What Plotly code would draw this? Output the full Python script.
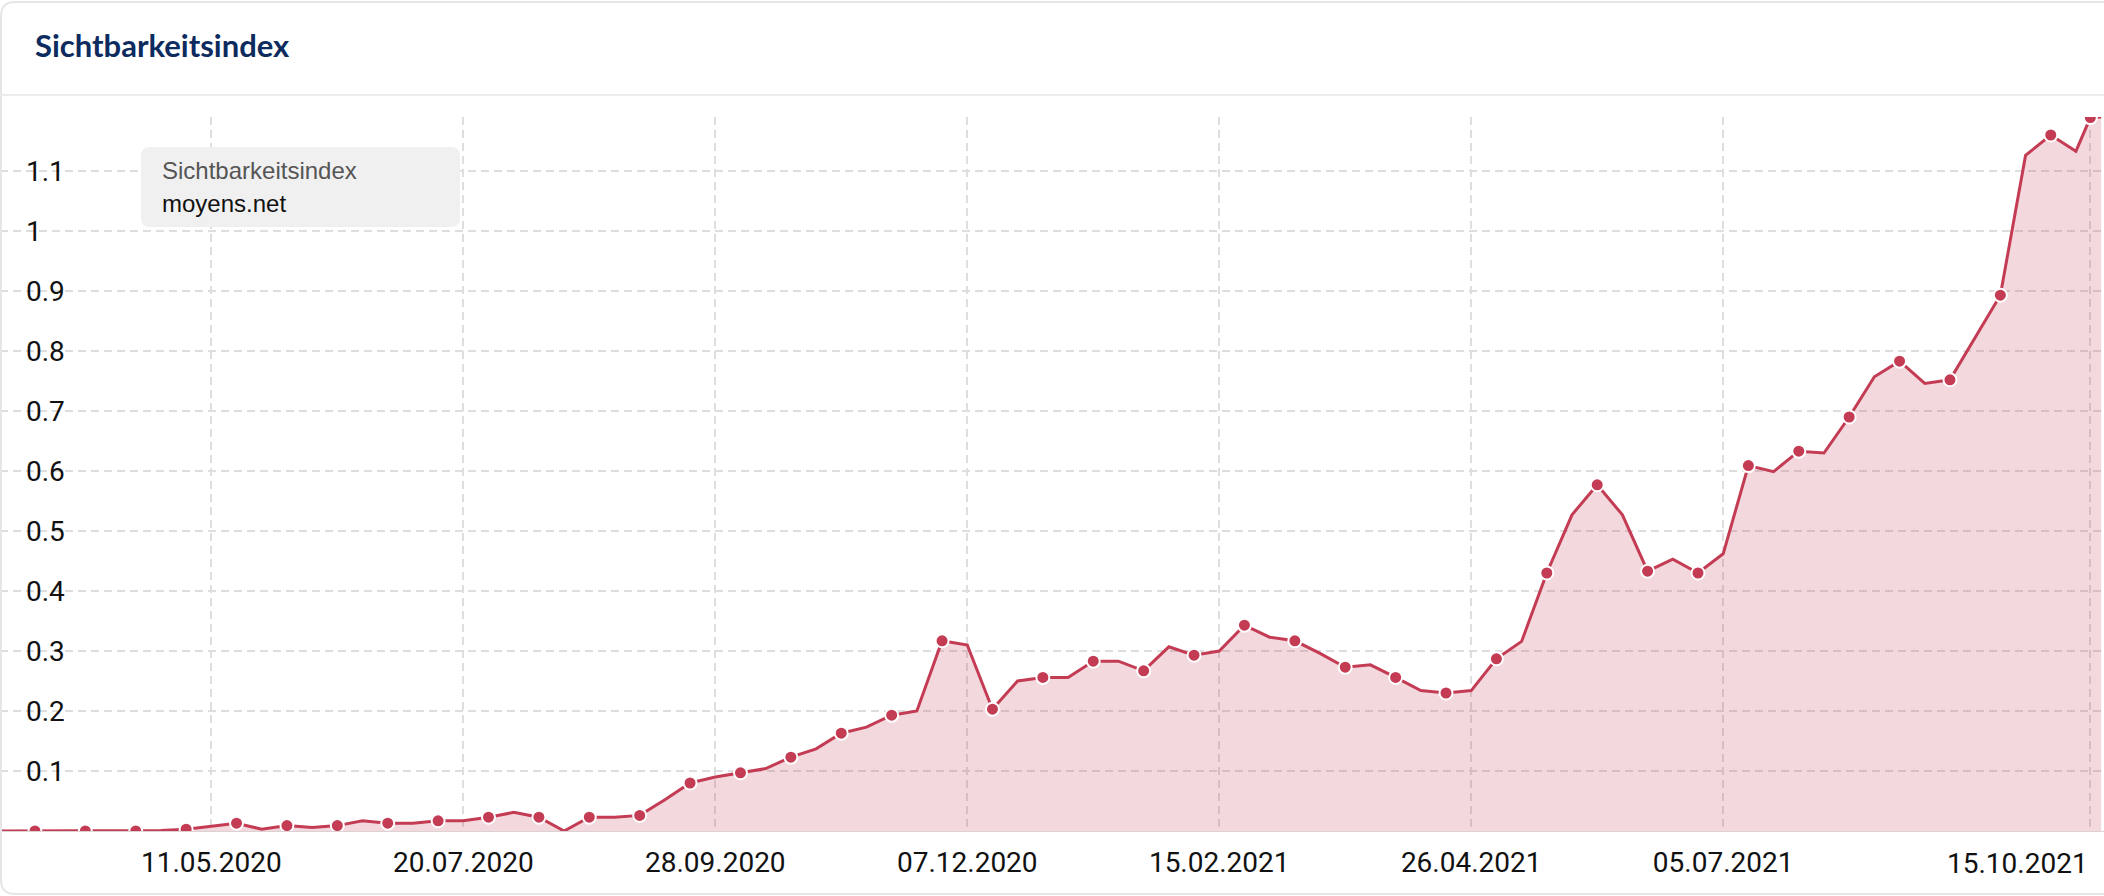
import pandas as pd
import plotly.graph_objects as go

W, H = 2104, 896
M_T, M_B = 117, 65

# weekly visibility index (Mondays) + latest value
weeks = list(pd.date_range("2020-03-09", "2021-10-11", freq="W-MON").strftime("%Y-%m-%d"))
dates = weeks + ["2021-10-15", "2021-10-18"]
values = [
    0.000, 0.000, 0.000, 0.000, 0.000, 0.000, 0.000, 0.001, 0.003, 0.008,
    0.013, 0.003, 0.009, 0.006, 0.009, 0.017, 0.013, 0.013, 0.017, 0.017,
    0.023, 0.031, 0.023, 0.000, 0.023, 0.023, 0.026, 0.052, 0.080, 0.090,
    0.097, 0.104, 0.123, 0.137, 0.163, 0.173, 0.193, 0.200, 0.317, 0.310,
    0.203, 0.250, 0.256, 0.256, 0.283, 0.283, 0.267, 0.307, 0.293, 0.300,
    0.343, 0.323, 0.317, 0.296, 0.273, 0.277, 0.256, 0.234, 0.230, 0.234,
    0.287, 0.316, 0.430, 0.527, 0.577, 0.527, 0.433, 0.453, 0.430, 0.462,
    0.609, 0.599, 0.633, 0.630, 0.690, 0.757, 0.783, 0.746, 0.752, 0.822,
    0.893, 1.126, 1.160, 1.133, 1.189, 1.190,
]

xtick_dates = ["2020-05-11", "2020-07-20", "2020-09-28", "2020-12-07",
               "2021-02-15", "2021-04-26", "2021-07-05", "2021-10-15"]
xtick_labels = ["11.05.2020", "20.07.2020", "28.09.2020", "07.12.2020",
                "15.02.2021", "26.04.2021", "05.07.2021", "15.10.2021"]
ytick_vals = [0.1, 0.2, 0.3, 0.4, 0.5, 0.6, 0.7, 0.8, 0.9, 1.0, 1.1]
ytick_labels = ["0.1", "0.2", "0.3", "0.4", "0.5", "0.6", "0.7", "0.8", "0.9", "1", "1.1"]

RED = "#c43c54"
GRID = "#dedede"


def px(x):
    return x / W


def py(y):
    return (H - M_B - y) / (H - M_T - M_B)


def rounded_rect(x0, y0, x1, y1, r):
    # path in paper coords from pixel box
    pts = [
        f"M {px(x0 + r)},{py(y0)}",
        f"L {px(x1 - r)},{py(y0)}",
        f"Q {px(x1)},{py(y0)} {px(x1)},{py(y0 + r)}",
        f"L {px(x1)},{py(y1 - r)}",
        f"Q {px(x1)},{py(y1)} {px(x1 - r)},{py(y1)}",
        f"L {px(x0 + r)},{py(y1)}",
        f"Q {px(x0)},{py(y1)} {px(x0)},{py(y1 - r)}",
        f"L {px(x0)},{py(y0 + r)}",
        f"Q {px(x0)},{py(y0)} {px(x0 + r)},{py(y0)}",
        "Z",
    ]
    return " ".join(pts)


def card_outline(x0, y0, x1, y1, r):
    # left part of the card frame, right edge runs off the page
    pts = [
        f"M {px(x1)},{py(y0)}",
        f"L {px(x0 + r)},{py(y0)}",
        f"Q {px(x0)},{py(y0)} {px(x0)},{py(y0 + r)}",
        f"L {px(x0)},{py(y1 - r)}",
        f"Q {px(x0)},{py(y1)} {px(x0 + r)},{py(y1)}",
        f"L {px(x1)},{py(y1)}",
    ]
    return " ".join(pts)


fig = go.Figure()

fig.add_trace(go.Scatter(
    x=dates, y=values,
    mode="lines",
    line=dict(color=RED, width=3),
    fill="tozeroy",
    fillcolor="rgba(196, 60, 84, 0.2)",
    hoverinfo="skip",
    showlegend=False,
))

# markers on every second point
fig.add_trace(go.Scatter(
    x=dates[::2], y=values[::2],
    mode="markers",
    marker=dict(color=RED, size=13, line=dict(color="white", width=2)),
    showlegend=False,
))

fig.update_layout(
    width=W, height=H,
    margin=dict(l=0, r=0, t=M_T, b=M_B),
    paper_bgcolor="white",
    plot_bgcolor="white",
    showlegend=False,
    xaxis=dict(
        type="date",
        range=["2020-03-13 07:00", "2021-10-18 19:00"],
        tickvals=xtick_dates,
        ticktext=xtick_labels[:-1] + [""],
        showgrid=True,
        gridcolor=GRID,
        gridwidth=2,
        griddash="8px,5px",
        showline=True,
        linecolor="#dcd2d4",
        linewidth=1,
        ticks="outside",
        ticklen=6,
        tickcolor="rgba(0,0,0,0)",
        tickfont=dict(family="Roboto", size=28, color="#111111"),
        zeroline=False,
    ),
    yaxis=dict(
        range=[0, 1.19],
        tickvals=ytick_vals,
        ticktext=ytick_labels,
        ticklabelposition="inside",
        ticklabelstandoff=23,
        showgrid=True,
        gridcolor=GRID,
        gridwidth=2,
        griddash="8px,5px",
        zeroline=False,
        showline=False,
        tickfont=dict(family="Roboto", size=28, color="#111111"),
    ),
    shapes=[
        # card border
        dict(type="path", xref="paper", yref="paper",
             path=card_outline(1, 2, 2104, 894, 14),
             line=dict(color="#e6e6e6", width=2), layer="above"),
        # header separator
        dict(type="line", xref="paper", yref="paper",
             x0=0, x1=1, y0=py(95), y1=py(95),
             line=dict(color="#ececec", width=2)),
        # legend box
        dict(type="path", xref="paper", yref="paper",
             path=rounded_rect(141, 147, 460, 227, 9),
             line=dict(width=0), fillcolor="#f0f0f0", layer="above"),
    ],
    annotations=[
        dict(text="<b>Sichtbarkeitsindex</b>", xref="paper", yref="paper",
             x=px(33), y=py(45), xanchor="left", yanchor="middle", showarrow=False,
             font=dict(family="Lato", size=31, color="#0d2b5e")),
        dict(text="Sichtbarkeitsindex", xref="paper", yref="paper",
             x=px(160), y=py(171), xanchor="left", yanchor="middle", showarrow=False,
             font=dict(family="Liberation Sans", size=24, color="#555555")),
        dict(text="moyens.net", xref="paper", yref="paper",
             x=px(160), y=py(203), xanchor="left", yanchor="middle", showarrow=False,
             font=dict(family="Liberation Sans", size=24, color="#111111")),
        # last x label kept inside the card
        dict(text=xtick_labels[-1], xref="x", yref="paper",
             x=xtick_dates[-1], y=py(863), xanchor="right", yanchor="middle", showarrow=False,
             font=dict(family="Roboto", size=28, color="#111111")),
    ],
)

fig.write_html("out.html", config={"displayModeBar": False},
               post_script="document.body.style.margin='0';")
